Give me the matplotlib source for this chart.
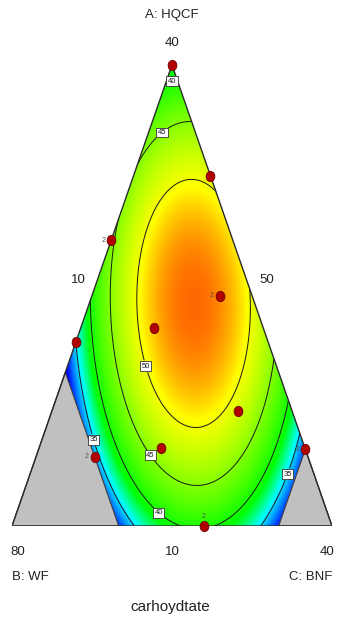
import numpy as np
import matplotlib
matplotlib.use("Agg")
import matplotlib.pyplot as plt
from matplotlib.colors import LinearSegmentedColormap, Normalize
from matplotlib.patches import Polygon
from matplotlib.markers import MarkerStyle
from matplotlib.transforms import Affine2D

plt.rcParams["font.family"] = ["Liberation Sans Narrow", "Liberation Sans",
                               "DejaVu Sans"]

# component ranges (actual %, mixture total = 100)
A_LO, A_HI = 10, 40     # A: HQCF
B_LO, B_HI = 50, 80     # B: WF
C_LO, C_HI = 10, 40     # C: BNF
B_MAX = 70              # extra upper limits that cut the corners
C_MAX = 35

# Scheffe quadratic model in L-pseudo components
# terms: A, B, C / AB, AC, BC
coef_linear = [37.9, -6.0, 16.0]
coef_cross = [98.0, 91.0, 138.0]

contour_levels = [35, 40, 45, 50]

# design runs (actual %), with replicate counts
run_A = [40.0, 32.8, 28.6, 25.0, 22.9, 22.0, 17.5, 15.1, 14.5, 15.0, 10.0]
run_B = [50.0, 50.0, 61.4, 53.0, 60.2, 68.0, 55.1, 63.5, 70.0, 50.0, 62.0]
run_C = [10.0, 17.2, 10.0, 22.0, 16.9, 10.0, 27.4, 21.4, 15.5, 35.0, 28.0]
run_reps = [1, 1, 2, 2, 1, 1, 1, 1, 2, 2, 2]

SPAN = A_HI - A_LO


def to_xy(A, C):
    a = (np.asarray(A) - A_LO) / SPAN
    c = (np.asarray(C) - C_LO) / SPAN
    return c + a / 2, a


def response(a, b, c):
    bA, bB, bC = coef_linear
    bAB, bAC, bBC = coef_cross
    return bA * a + bB * b + bC * c + bAB * a * b + bAC * a * c + bBC * b * c


W, H = 338, 622
fig = plt.figure(figsize=(W / 100, H / 100), dpi=100)
# triangle: apex at top centre, base along the bottom of the axes
ax = fig.add_axes([12 / W, (H - 526) / H, 320 / W, 461 / H])
ax.set_xlim(0, 1)
ax.set_ylim(0, 1)
ax.axis("off")

# response surface on a grid
gx = np.linspace(0, 1, 600)
gy = np.linspace(0, 1, 600)
X, Y = np.meshgrid(gx, gy)
a = Y
c = X - Y / 2
b = 1 - a - c
Z = response(a, b, c)

bmax = (B_MAX - B_LO) / SPAN
cmax = (C_MAX - C_LO) / SPAN

# blue -> cyan -> green -> yellow -> red, anchored on response values
vmin, vmax = 31.0, 57.0
anchors = [(31.0, "#0000ff"), (35.5, "#00ffff"), (39.0, "#00ff00"),
           (50.5, "#ffff00"), (57.0, "#ff0000")]
cmap = LinearSegmentedColormap.from_list(
    "mix", [((v - vmin) / (vmax - vmin), col) for v, col in anchors])

# feasible region polygon
region_xy = [(0.5, 1.0),
             ((1 - bmax) / 2, 1 - bmax),
             (1 - bmax, 0.0),
             (cmax, 0.0),
             (cmax + (1 - cmax) / 2, 1 - cmax)]
region = Polygon(region_xy, closed=True, fill=False, edgecolor="none",
                 transform=ax.transData)
ax.add_patch(region)

im = ax.imshow(Z, extent=(0, 1, 0, 1), origin="lower", cmap=cmap,
               norm=Normalize(vmin, vmax), interpolation="bilinear",
               aspect="auto")
im.set_clip_path(region)

Zm = np.ma.masked_where((a < -0.02) | (b < -0.02) | (c < -0.02), Z)
cs = ax.contour(X, Y, Zm, levels=contour_levels, colors="#1a1a1a",
                linewidths=0.7)
cs.set_clip_path(region)

label_pos = [(0.5, 0.965), (0.4625, 0.859), (0.431, 0.349),
             (0.447, 0.1605), (0.472, 0.039), (0.253, 0.1866),
             (0.85, 0.115)]
texts = ax.clabel(cs, fmt="%d", manual=label_pos, fontsize=5.5,
                  inline=True, inline_spacing=2)
for t in texts:
    t.set_rotation(0)
    t.set_bbox(dict(facecolor="white", edgecolor="#333333", lw=0.6,
                    pad=1.0))
    t.set_zorder(6)

# infeasible corners
gray_left = Polygon([(0, 0), ((1 - bmax) / 2, 1 - bmax), (1 - bmax, 0)],
                    closed=True, facecolor="#c0c0c0", edgecolor="#3a3a3a",
                    lw=0.8, zorder=3)
gray_right = Polygon([(1, 0), (cmax, 0), (cmax + (1 - cmax) / 2, 1 - cmax)],
                     closed=True, facecolor="#c0c0c0", edgecolor="#3a3a3a",
                     lw=0.8, zorder=3)
ax.add_patch(gray_left)
ax.add_patch(gray_right)
ax.add_patch(Polygon([(0, 0), (0.5, 1), (1, 0)], closed=True, fill=False,
                     edgecolor="#2a2a2a", lw=1.0, zorder=4))

# design points
px, py = to_xy(run_A, run_C)
dot = MarkerStyle("o", transform=Affine2D().scale(0.85, 1.0))
ax.scatter(px, py, s=55, marker=dot, facecolor="#b00000",
           edgecolor="#700000", linewidths=0.6, zorder=7, clip_on=False)
for x0, y0, n in zip(px, py, run_reps):
    if n < 2:
        continue
    if y0 < 0.01:
        off, ha = (0, 10), "center"
    else:
        off, ha = (-6, 0), "right"
    ax.annotate(str(n), (x0, y0), xytext=off, textcoords="offset pixels",
                ha=ha, va="center", fontsize=5, color="#555555", zorder=7)

# axis labels
lab = dict(fontsize=9.5, color="#222222", ha="center", va="center")
ax.text(0.5, 1.108, "A: HQCF", **lab)
ax.text(0.5, 1.048, f"{A_HI}", **lab)
ax.text(0.206, 0.534, f"{C_LO}", **lab)
ax.text(0.797, 0.534, f"{B_LO}", **lab)
ax.text(0.019, -0.056, f"{B_HI}", **lab)
ax.text(0.5, -0.056, f"{A_LO}", **lab)
ax.text(0.984, -0.056, f"{C_HI}", **lab)
ax.text(0.0, -0.11, "B: WF", fontsize=9.5, color="#222222", ha="left",
        va="center")
ax.text(1.0, -0.11, "C: BNF", fontsize=9.5, color="#222222", ha="right",
        va="center")
ax.text(0.494, -0.176, "carhoydtate", fontsize=11, color="#222222",
        ha="center", va="center")

fig.savefig("out.png", dpi=100)
